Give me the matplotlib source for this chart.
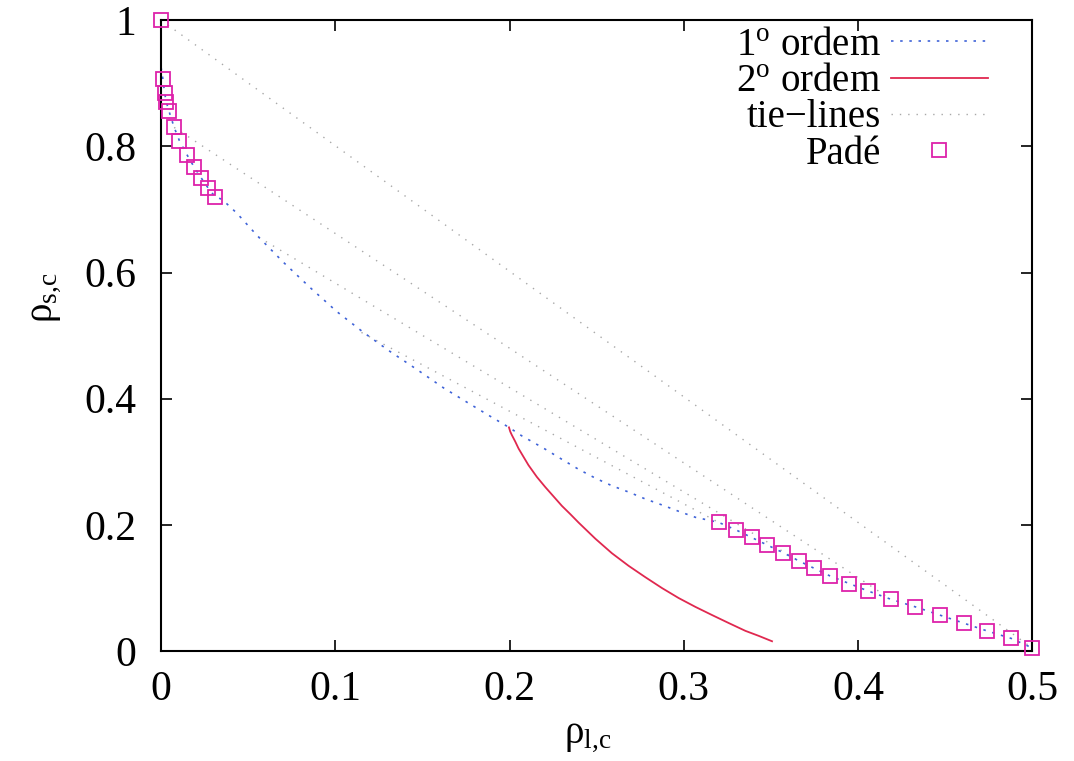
import matplotlib
matplotlib.use('Agg')
from matplotlib import pyplot as plt
from matplotlib.ticker import FormatStrFormatter

# Padé points: left branch then right branch (rho_l, rho_s)
pade_x = [0.0, 0.001, 0.002, 0.003, 0.0045, 0.0075, 0.0105, 0.015, 0.019, 0.023, 0.027, 0.031,
          0.320, 0.330, 0.339, 0.348, 0.357, 0.366, 0.375, 0.384, 0.395, 0.406, 0.419,
          0.433, 0.447, 0.461, 0.474, 0.488, 0.500]
pade_y = [1.0, 0.907, 0.885, 0.870, 0.856, 0.830, 0.809, 0.786, 0.767, 0.750, 0.734, 0.720,
          0.204, 0.192, 0.180, 0.168, 0.156, 0.143, 0.131, 0.119, 0.107, 0.095, 0.082,
          0.070, 0.057, 0.044, 0.032, 0.020, 0.005]

# 1a ordem (coexistence curve)
ord1_x = [0.0, 0.001, 0.002, 0.003, 0.0045, 0.0075, 0.0105, 0.015, 0.019, 0.023, 0.027, 0.031,
          0.035, 0.0435, 0.055, 0.0703, 0.0856, 0.1009, 0.1162, 0.1316, 0.147, 0.1622, 0.1776,
          0.189, 0.1997,
          0.2071, 0.2148, 0.2205, 0.230, 0.2397, 0.2493, 0.2588, 0.2684, 0.278, 0.2876,
          0.2971, 0.3067,
          0.320, 0.330, 0.339, 0.348, 0.357, 0.366, 0.375, 0.384, 0.395, 0.406, 0.419,
          0.433, 0.447, 0.461, 0.474, 0.488, 0.500]
ord1_y = [0.925, 0.907, 0.885, 0.870, 0.856, 0.830, 0.809, 0.786, 0.767, 0.750, 0.734, 0.720,
          0.716, 0.694, 0.659, 0.616, 0.576, 0.538, 0.505, 0.4745, 0.446, 0.417, 0.391,
          0.372, 0.3545,
          0.341, 0.329, 0.320, 0.304, 0.288, 0.274, 0.262, 0.252, 0.241, 0.2315,
          0.2215, 0.212,
          0.204, 0.192, 0.180, 0.168, 0.156, 0.143, 0.131, 0.119, 0.107, 0.095, 0.082,
          0.070, 0.057, 0.044, 0.032, 0.020, 0.005]

# 2a ordem
ord2_x = [0.1997, 0.2004, 0.2013, 0.2033, 0.2052, 0.2080, 0.2109, 0.2157, 0.2205, 0.2253,
          0.2301, 0.2349, 0.2397, 0.2493, 0.2588, 0.2684, 0.2780, 0.2876, 0.2971, 0.3067,
          0.3163, 0.3259, 0.3354, 0.3431, 0.3507]
ord2_y = [0.3545, 0.348, 0.3426, 0.332, 0.321, 0.308, 0.2946, 0.276, 0.260, 0.245,
          0.230, 0.217, 0.2035, 0.178, 0.155, 0.135, 0.117, 0.0997, 0.084, 0.070,
          0.057, 0.0443, 0.032, 0.024, 0.0155]

# tie-lines, ends on left and right branch
tie_left_x = [0.0, 0.0075, 0.056, 0.115]
tie_left_y = [1.0, 0.830, 0.656, 0.505]
tie_right_x = [0.5, 0.419, 0.366, 0.320]
tie_right_y = [0.005, 0.082, 0.143, 0.204]

xticks = [0, 0.1, 0.2, 0.3, 0.4, 0.5]
yticks = [0, 0.2, 0.4, 0.6, 0.8, 1]

plt.rcParams['font.family'] = ['Liberation Serif', 'DejaVu Serif']
plt.rcParams['mathtext.fontset'] = 'custom'
plt.rcParams['mathtext.rm'] = 'Liberation Serif'
plt.rcParams['mathtext.it'] = 'Liberation Serif:italic'

fig = plt.figure(figsize=(10.74, 7.61), dpi=100)
ax = fig.add_axes([0.150, 0.1445, 0.811, 0.829])

for i in range(len(tie_left_x)):
    ax.plot([tie_left_x[i], tie_right_x[i]], [tie_left_y[i], tie_right_y[i]],
            color='#a8a8a8', lw=1.0, ls=(0, (1, 5)),
            label='tie\u2212lines' if i == 0 else None, zorder=1)

ax.plot(ord1_x, ord1_y, color='#3f63d8', lw=1.2, ls=(0, (1.5, 4)),
        label=r'1$^{\mathrm{o}}$ ordem', zorder=2)
ax.plot(ord2_x, ord2_y, color='#e0284f', lw=1.3, ls='-',
        label=r'2$^{\mathrm{o}}$ ordem', zorder=3)
ax.plot(pade_x, pade_y, ls='none', marker='s', ms=10, mfc='none',
        mec='#dd22aa', mew=1.3, label='Padé', zorder=4, clip_on=False)

ax.set_xlim(0, 0.5)
ax.set_ylim(0, 1)
ax.set_xticks(xticks)
ax.set_yticks(yticks)
ax.xaxis.set_major_formatter(FormatStrFormatter('%g'))
ax.yaxis.set_major_formatter(FormatStrFormatter('%g'))
ax.tick_params(direction='in', top=True, right=True, length=8, width=1.2,
               labelsize=30)
ax.tick_params(axis='x', pad=14)
ax.tick_params(axis='y', pad=18)
for s in ax.spines.values():
    s.set_linewidth(1.5)

ax.set_xlabel(r'$\mathrm{\rho_{l,\!c}}$', fontsize=28)
ax.set_ylabel(r'$\mathrm{\rho_{s,\!c}}$', fontsize=28)
ax.xaxis.set_label_coords(0.49, -0.105)
ax.yaxis.set_label_coords(-0.113, 0.56)

# legend order as in the figure
h, lab = ax.get_legend_handles_labels()
order = [1, 2, 0, 3]
ax.legend([h[k] for k in order], [lab[k] for k in order],
          loc='upper right', bbox_to_anchor=(988 / 1074, 1 - 27 / 761),
          bbox_transform=fig.transFigure, frameon=False, markerfirst=False,
          fontsize=28, handlelength=2.5, handletextpad=0.25,
          labelspacing=-0.02, borderpad=0, borderaxespad=0)

fig.savefig('out.png', dpi=100)
